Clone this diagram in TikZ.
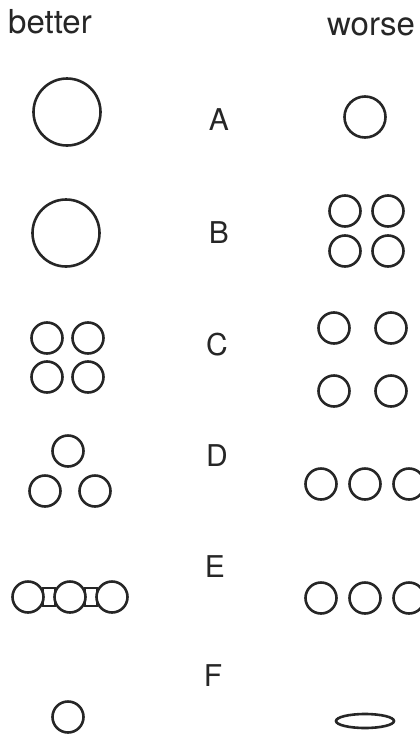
\documentclass[tikz,border=0pt]{standalone}
\usepackage{fontspec}
\setmainfont{TeX Gyre Heros}
\definecolor{ink}{HTML}{262626}
\usetikzlibrary{shapes.geometric, calc, positioning}

\begin{document}
\begin{tikzpicture}[
    x=1pt, y=-1pt,
    ring/.style={circle, draw=ink, line width=2.6pt, inner sep=0pt,
                 minimum size=31pt},
    bigring/.style={ring, minimum size=67pt},
    midring/.style={ring, minimum size=41pt},
    flat/.style={ellipse, draw=ink, line width=2.6pt, inner sep=0pt,
                 minimum width=58pt, minimum height=14pt},
    head/.style={anchor=base west, inner sep=0pt, text=ink,
                 font=\fontsize{33}{36}\selectfont},
    case/.style={inner sep=0pt, text=ink, font=\fontsize{30}{34}\selectfont},
    link/.style={draw=ink, line width=2pt}
  ]
  \useasboundingbox (0,0) rectangle (420,737);
  \clip (0,0) rectangle (420,737);

  \node[head] (better) at (8,33) {better};
  \node[head] (worse) at (327,35) {worse};

  \node[bigring] (a1) at (67,112) {};
  \node[case] (la) at (219,120) {A};
  \node[midring] (a2) at (365,117) {};

  \node[bigring] (b1) at (66,233) {};
  \node[case] (lb) at (219,233) {B};
  \node[ring] (b2) at (345,211) {};
  \node[ring] (b3) at (388,211) {};
  \node[ring] (b4) at (345,251) {};
  \node[ring] (b5) at (388,251) {};

  \node[ring] (c1) at (47,338) {};
  \node[ring] (c2) at (88,338) {};
  \node[ring] (c3) at (47,377) {};
  \node[ring] (c4) at (88,377) {};
  \node[case] (lc) at (217,345) {C};
  \node[ring] (c5) at (334,328) {};
  \node[ring] (c6) at (391,328) {};
  \node[ring] (c7) at (334,391) {};
  \node[ring] (c8) at (391,391) {};

  \node[ring] (d1) at (68,451) {};
  \node[ring] (d2) at (45,491) {};
  \node[ring] (d3) at (95,491) {};
  \node[case] (ld) at (217,456) {D};
  \node[ring] (d4) at (321,484) {};
  \node[ring] (d5) at (365,484) {};
  \node[ring] (d6) at (409,484) {};

  \node[ring] (e1) at (28,597) {};
  \node[ring] (e2) at (70,597) {};
  \node[ring] (e3) at (112,597) {};
  \node[case] (le) at (215,567) {E};
  \node[ring] (e4) at (321,598) {};
  \node[ring] (e5) at (365,598) {};
  \node[ring] (e6) at (409,598) {};
  \draw[link] ($(e1.east)+(-2,-9)$) rectangle ($(e2.west)+(2,9)$);
  \draw[link] ($(e2.east)+(-2,-9)$) rectangle ($(e3.west)+(2,9)$);

  \node[case] (lf) at (213,676) {F};
  \node[ring] (f1) at (68,717) {};
  \node[flat] (f2) at (365,721) {};
\end{tikzpicture}
\end{document}
